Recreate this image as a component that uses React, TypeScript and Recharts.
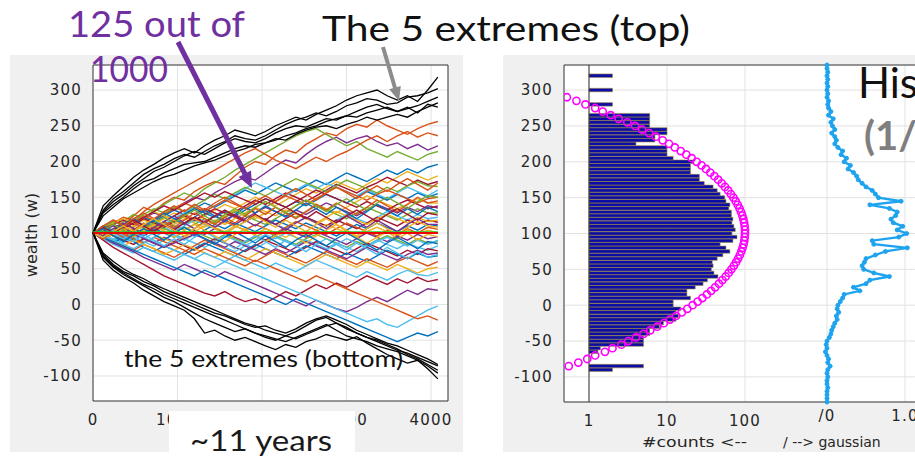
import React from "react";
import {
  ComposedChart,
  LineChart,
  Line,
  Bar,
  XAxis,
  YAxis,
  CartesianGrid,
  ReferenceLine,
} from "recharts";

// ---------- left panel: 125 wealth paths (a subset is drawn) ----------
const steps = [0, 120, 240, 360, 480, 600, 720, 840, 960, 1080, 1200, 1320, 1440, 1560, 1680, 1800, 1920, 2040, 2160, 2280, 2400, 2520, 2640, 2760, 2880, 3000, 3120, 3240, 3360, 3480, 3600, 3720, 3840, 3960, 4080];

const xTicks = [0, 1000, 2000, 3000, 4000];
const wealthTicks = [-100, -50, 0, 50, 100, 150, 200, 250, 300];
const startWealth = 100;

const w01 = [100, 108, 118, 112, 124, 136, 130, 142, 150, 146, 158, 166, 172, 168, 180, 192, 200, 196, 208, 216, 212, 224, 232, 240, 236, 246, 252, 248, 258, 250, 244, 238, 246, 252, 256];
const w02 = [100, 94, 104, 112, 108, 120, 128, 124, 134, 142, 150, 146, 156, 164, 172, 178, 174, 184, 194, 202, 198, 210, 220, 228, 234, 226, 232, 236, 228, 222, 226, 218, 224, 216, 222];
const w03 = [100, 110, 104, 116, 126, 120, 132, 140, 148, 156, 150, 162, 170, 178, 188, 196, 204, 212, 220, 228, 236, 242, 246, 238, 230, 222, 228, 218, 212, 206, 214, 208, 202, 210, 214];
const w04 = [100, 106, 114, 122, 118, 130, 140, 148, 156, 164, 172, 180, 188, 196, 204, 212, 218, 210, 202, 196, 190, 198, 206, 200, 208, 214, 222, 230, 236, 228, 236, 242, 234, 240, 236];
const w05 = [100, 92, 98, 106, 114, 108, 116, 124, 132, 126, 134, 142, 136, 144, 152, 160, 154, 162, 170, 164, 158, 166, 174, 168, 176, 184, 178, 172, 180, 188, 182, 190, 184, 192, 196];
const w06 = [100, 104, 96, 102, 110, 118, 112, 120, 128, 122, 116, 124, 132, 140, 134, 142, 150, 144, 138, 146, 154, 162, 156, 164, 172, 166, 160, 168, 176, 170, 178, 186, 180, 174, 180];
const w07 = [100, 96, 104, 112, 106, 100, 108, 116, 124, 132, 126, 134, 128, 122, 130, 138, 146, 140, 148, 156, 150, 144, 152, 160, 168, 162, 156, 164, 170, 178, 172, 166, 174, 168, 172];
const w08 = [100, 108, 100, 94, 102, 110, 118, 112, 120, 128, 136, 130, 138, 146, 154, 162, 170, 164, 158, 152, 160, 168, 162, 170, 164, 158, 152, 160, 154, 148, 156, 164, 158, 152, 160];
const w09 = [100, 104, 112, 106, 114, 122, 116, 110, 118, 126, 134, 128, 122, 130, 124, 132, 140, 148, 142, 136, 144, 138, 146, 154, 148, 142, 150, 158, 152, 146, 154, 148, 156, 150, 155];
const w10 = [100, 94, 100, 108, 116, 124, 118, 126, 134, 142, 136, 130, 138, 146, 140, 134, 128, 136, 144, 152, 146, 140, 148, 156, 164, 158, 152, 146, 154, 160, 154, 148, 142, 148, 150];
const w11 = [100, 98, 106, 100, 94, 102, 110, 104, 112, 120, 114, 108, 116, 124, 132, 126, 120, 128, 136, 130, 138, 146, 140, 134, 128, 136, 144, 152, 146, 140, 134, 140, 148, 142, 142];
const w12 = [100, 106, 100, 108, 102, 96, 104, 112, 106, 114, 122, 116, 124, 118, 112, 120, 128, 136, 130, 124, 132, 126, 134, 142, 136, 130, 124, 132, 140, 134, 128, 136, 130, 138, 135];
const w13 = [100, 96, 90, 98, 106, 100, 108, 116, 110, 104, 112, 120, 114, 122, 130, 124, 118, 112, 120, 128, 122, 130, 138, 132, 126, 120, 128, 136, 130, 124, 118, 126, 134, 128, 128];
const w14 = [100, 104, 110, 104, 98, 92, 100, 108, 102, 110, 118, 112, 106, 100, 108, 116, 124, 118, 112, 106, 114, 122, 116, 110, 118, 126, 120, 114, 122, 130, 124, 118, 126, 120, 122];
const w15 = [100, 106, 112, 118, 112, 120, 114, 108, 116, 124, 118, 126, 134, 128, 122, 116, 124, 118, 112, 120, 128, 122, 116, 110, 118, 112, 106, 114, 122, 116, 110, 118, 112, 118, 115];
const w16 = [100, 94, 88, 96, 90, 98, 106, 100, 94, 102, 96, 104, 112, 106, 114, 108, 102, 110, 118, 112, 106, 114, 108, 102, 96, 104, 112, 106, 114, 108, 102, 110, 104, 112, 110];
const w17 = [100, 104, 98, 106, 114, 108, 102, 110, 118, 126, 120, 114, 108, 116, 110, 104, 112, 106, 100, 108, 116, 110, 104, 98, 106, 114, 108, 102, 96, 104, 98, 106, 100, 108, 105];
const w18 = [100, 108, 114, 120, 114, 122, 130, 124, 118, 112, 120, 114, 108, 102, 110, 104, 98, 106, 100, 94, 102, 96, 104, 112, 106, 100, 94, 102, 108, 102, 96, 104, 98, 104, 100];
const w19 = [100, 94, 100, 106, 100, 92, 86, 94, 88, 96, 104, 98, 106, 100, 94, 88, 96, 90, 98, 106, 100, 94, 102, 96, 90, 84, 92, 100, 94, 88, 96, 90, 98, 92, 95];
const w20 = [100, 102, 96, 90, 98, 106, 112, 106, 100, 108, 102, 96, 90, 98, 92, 86, 94, 102, 96, 90, 84, 92, 98, 92, 86, 80, 88, 82, 90, 96, 90, 84, 92, 86, 88];
const w21 = [100, 96, 92, 86, 94, 88, 82, 90, 98, 92, 86, 80, 88, 96, 90, 84, 78, 86, 94, 88, 82, 90, 84, 78, 86, 80, 74, 82, 90, 84, 78, 86, 80, 76, 82];
const w22 = [100, 104, 96, 90, 84, 92, 86, 80, 88, 82, 76, 84, 92, 86, 80, 74, 82, 90, 84, 78, 72, 80, 88, 82, 76, 70, 78, 86, 80, 74, 68, 76, 70, 78, 75];
const w23 = [100, 92, 86, 94, 88, 80, 74, 82, 76, 70, 78, 86, 80, 74, 68, 76, 84, 78, 72, 66, 74, 82, 76, 70, 64, 72, 66, 60, 68, 76, 70, 64, 72, 66, 68];
const w24 = [100, 96, 88, 82, 76, 84, 78, 72, 66, 74, 82, 90, 84, 78, 72, 66, 60, 68, 76, 70, 64, 58, 66, 74, 68, 62, 56, 64, 58, 52, 60, 66, 60, 54, 60];
const w25 = [100, 94, 88, 82, 90, 84, 78, 70, 76, 84, 78, 72, 66, 74, 68, 62, 70, 78, 72, 66, 60, 54, 62, 70, 64, 58, 52, 60, 54, 48, 56, 50, 44, 50, 52];
const w26 = [100, 92, 84, 78, 72, 80, 74, 68, 62, 70, 64, 58, 52, 60, 68, 62, 56, 50, 58, 52, 46, 54, 62, 56, 50, 44, 38, 46, 40, 34, 42, 48, 42, 40, 45];
const w27 = [100, 90, 80, 72, 64, 56, 48, 40, 34, 28, 22, 16, 12, 18, 10, 4, 8, 2, 10, 18, 12, 20, 28, 22, 30, 24, 32, 40, 34, 28, 36, 30, 38, 32, 35];
const w28 = [100, 94, 86, 80, 74, 66, 60, 54, 48, 56, 50, 44, 38, 46, 40, 34, 28, 22, 16, 10, 4, -2, 6, 0, -6, -10, -4, 4, 10, 4, 12, 20, 14, 22, 20];
const w29 = [100, 106, 98, 92, 100, 94, 88, 82, 76, 70, 64, 72, 66, 60, 54, 48, 42, 36, 30, 24, 18, 12, 6, 0, -6, -12, -18, -24, -20, -28, -32, -24, -16, -8, -2];
const w30 = [100, 96, 104, 98, 92, 86, 94, 88, 82, 76, 70, 78, 72, 66, 60, 54, 62, 56, 50, 44, 38, 32, 40, 34, 28, 22, 16, 10, 4, -2, -8, -14, -20, -16, -22];
const w31 = [100, 94, 88, 82, 76, 70, 64, 58, 52, 46, 40, 48, 42, 36, 30, 24, 18, 12, 6, 0, 8, 2, -4, -10, -16, -22, -28, -34, -40, -46, -52, -46, -40, -44, -38];
const w32 = [100, 108, 116, 110, 118, 126, 134, 128, 136, 130, 138, 146, 154, 148, 156, 164, 158, 152, 160, 168, 176, 170, 164, 158, 166, 174, 168, 162, 156, 164, 158, 166, 172, 166, 165];
const w33 = [100, 106, 112, 106, 114, 122, 130, 138, 132, 140, 148, 156, 150, 158, 152, 146, 140, 148, 142, 136, 144, 152, 160, 154, 148, 142, 136, 144, 138, 132, 140, 146, 140, 134, 138];
const w34 = [100, 92, 98, 104, 110, 104, 98, 92, 86, 94, 102, 110, 118, 112, 120, 128, 136, 130, 124, 132, 126, 120, 114, 122, 130, 124, 118, 112, 120, 126, 120, 114, 122, 116, 118];
const w35 = [100, 96, 90, 84, 78, 86, 94, 102, 96, 90, 98, 92, 86, 80, 74, 82, 90, 98, 92, 100, 94, 88, 82, 76, 84, 92, 86, 80, 88, 94, 88, 82, 90, 84, 90];
const w36 = [100, 104, 110, 104, 98, 92, 86, 80, 86, 92, 98, 92, 86, 80, 88, 82, 76, 70, 78, 72, 80, 88, 82, 76, 70, 64, 72, 80, 74, 68, 62, 70, 76, 70, 72];
const w37 = [100, 110, 102, 112, 120, 110, 118, 128, 120, 112, 122, 132, 124, 116, 126, 136, 128, 138, 130, 122, 132, 142, 134, 126, 136, 128, 120, 130, 140, 132, 124, 134, 126, 136, 130];
const w38 = [100, 92, 102, 94, 104, 114, 106, 116, 108, 118, 128, 120, 112, 122, 114, 124, 134, 126, 136, 128, 120, 130, 140, 132, 142, 134, 126, 136, 146, 138, 130, 140, 150, 142, 145];
const w39 = [100, 108, 98, 106, 96, 104, 112, 102, 94, 104, 112, 104, 96, 88, 98, 106, 96, 88, 96, 104, 94, 86, 96, 104, 112, 102, 94, 86, 94, 102, 92, 100, 90, 98, 95];
const w40 = [100, 96, 106, 114, 106, 98, 108, 116, 124, 114, 106, 116, 108, 118, 126, 118, 110, 120, 112, 104, 114, 122, 114, 106, 116, 124, 116, 108, 118, 110, 102, 112, 120, 112, 112];
const w41 = [100, 104, 112, 104, 96, 106, 114, 122, 114, 124, 132, 124, 116, 126, 134, 126, 136, 144, 136, 128, 138, 146, 138, 130, 140, 148, 140, 132, 142, 150, 142, 134, 144, 152, 150];
const w42 = [100, 94, 104, 96, 88, 98, 90, 82, 92, 84, 94, 102, 94, 86, 78, 88, 96, 88, 80, 90, 82, 74, 84, 92, 84, 76, 86, 78, 70, 80, 72, 64, 74, 66, 70];
const w43 = [100, 108, 100, 110, 118, 110, 102, 112, 104, 114, 122, 114, 124, 132, 124, 116, 126, 118, 128, 136, 128, 120, 130, 122, 114, 124, 132, 124, 116, 126, 134, 126, 118, 128, 125];
const w44 = [100, 106, 96, 88, 98, 106, 98, 90, 100, 108, 100, 92, 84, 94, 102, 94, 86, 96, 88, 80, 90, 98, 90, 82, 92, 100, 92, 84, 76, 86, 94, 86, 78, 88, 85];
const w45 = [100, 110, 118, 110, 120, 128, 120, 130, 138, 130, 140, 132, 142, 150, 142, 134, 144, 152, 144, 154, 162, 154, 146, 156, 164, 156, 148, 158, 166, 158, 168, 176, 168, 160, 170];
const w46 = [100, 94, 102, 110, 102, 112, 120, 112, 104, 96, 106, 114, 106, 98, 108, 116, 124, 116, 108, 118, 110, 102, 112, 120, 112, 104, 96, 106, 114, 106, 98, 108, 116, 110, 108];

// the 5 extremes (top) and the 5 extremes (bottom)
const top1 = [100, 138, 152, 165, 178, 188, 196, 205, 212, 218, 212, 222, 230, 236, 244, 240, 236, 242, 250, 256, 262, 258, 266, 272, 278, 286, 292, 296, 300, 292, 286, 292, 284, 300, 318];
const top2 = [100, 132, 148, 158, 170, 182, 190, 196, 204, 210, 206, 214, 222, 228, 236, 232, 230, 236, 244, 252, 258, 262, 268, 264, 270, 278, 282, 288, 286, 280, 282, 290, 292, 296, 302];
const top3 = [100, 128, 140, 150, 162, 172, 176, 184, 190, 196, 198, 200, 206, 212, 218, 222, 220, 226, 232, 230, 238, 244, 248, 250, 246, 252, 256, 262, 258, 262, 266, 262, 270, 276, 282];
const top4 = [100, 124, 136, 148, 156, 164, 172, 178, 182, 188, 194, 198, 202, 208, 214, 218, 224, 226, 230, 236, 240, 246, 250, 256, 260, 264, 262, 268, 272, 276, 270, 274, 278, 284, 290];
const top5 = [100, 130, 144, 154, 166, 176, 186, 192, 200, 208, 214, 210, 218, 226, 232, 228, 226, 232, 240, 246, 250, 248, 254, 260, 258, 264, 270, 276, 280, 274, 270, 276, 268, 280, 276];
const bot1 = [100, 62, 48, 38, 30, 20, 12, 4, -2, -8, -20, -40, -36, -44, -50, -46, -52, -58, -63, -56, -60, -52, -48, -42, -46, -50, -45, -54, -62, -70, -76, -82, -78, -90, -104];
const bot2 = [100, 66, 52, 42, 34, 26, 18, 10, 4, -4, -12, -20, -26, -32, -38, -34, -40, -46, -50, -44, -38, -30, -22, -18, -26, -34, -40, -46, -50, -56, -62, -70, -76, -84, -92];
const bot3 = [100, 70, 56, 46, 40, 32, 26, 18, 12, 6, 0, -6, -12, -16, -22, -28, -32, -30, -36, -40, -34, -26, -20, -16, -22, -28, -36, -42, -48, -54, -58, -64, -70, -76, -84];
const bot4 = [100, 72, 60, 50, 42, 36, 28, 22, 16, 10, 4, -2, -8, -14, -20, -26, -30, -36, -40, -44, -48, -42, -36, -30, -26, -32, -40, -46, -52, -58, -64, -68, -74, -80, -86];
const bot5 = [100, 68, 54, 44, 36, 28, 22, 14, 8, 2, -4, -10, -16, -22, -28, -34, -40, -44, -48, -52, -46, -40, -34, -28, -36, -44, -48, -52, -58, -62, -66, -72, -78, -86, -96];

const colouredWalks = [w01, w02, w03, w04, w05, w06, w07, w08, w09, w10, w11, w12, w13, w14, w15, w16, w17, w18, w19, w20, w21, w22, w23, w24, w25, w26, w27, w28, w29, w30, w31, w32, w33, w34, w35, w36, w37, w38, w39, w40, w41, w42, w43, w44, w45, w46];
const extremeWalks = [top1, top2, top3, top4, top5, bot1, bot2, bot3, bot4, bot5];
const walkColours = [
  "#D95319", "#7E2F8E", "#77AC30", "#D95319", "#0072BD", "#EDB120", "#A2142F", "#4DBEEE", "#0072BD", "#D95319",
  "#EDB120", "#7E2F8E", "#77AC30", "#4DBEEE", "#A2142F", "#0072BD", "#D95319", "#EDB120", "#7E2F8E", "#77AC30",
  "#4DBEEE", "#A2142F", "#0072BD", "#D95319", "#EDB120", "#4DBEEE", "#A2142F", "#7E2F8E", "#4DBEEE", "#D95319",
  "#0072BD", "#77AC30", "#A2142F", "#EDB120", "#4DBEEE", "#7E2F8E", "#0072BD", "#D95319", "#EDB120", "#7E2F8E",
  "#77AC30", "#4DBEEE", "#A2142F", "#0072BD", "#D95319", "#EDB120",
];

const walkRows = steps.map((t, i) => {
  const row: any = { t };
  colouredWalks.forEach((w, k) => (row["c" + k] = w[i]));
  extremeWalks.forEach((w, k) => (row["e" + k] = w[i]));
  return row;
});

// ---------- right panel: histogram of final wealth ----------
const histBins = Array.from({ length: 84 }, (_, i) => -95 + 5 * i);
const histCounts = [
  0, 2, 5, 0, 0, 1, 1.3, 1.4, 5, 5,
  5, 6, 6, 8, 9, 13, 14, 13, 15, 12,
  12, 20, 18, 18, 23, 29, 33, 45, 40, 37,
  39, 38, 44, 52, 64, 57, 48, 70, 79, 68,
  75, 72, 68, 70, 67, 67, 62, 64, 57, 55,
  48, 44, 39, 30, 26, 26, 20, 20, 20, 22,
  12, 10, 10, 10, 4, 7, 7, 10, 10, 6,
  6, 6, 6, 1, 1, 2, 0, 1, 0, 2,
  0, 0, 0, 2,
];
const gaussW = Array.from({ length: 77 }, (_, i) => -90 + 5 * i);
const gaussFit = [
  0.42, 0.55, 0.73, 0.95, 1.2, 1.6, 2.0, 2.6, 3.2, 4.0,
  5.0, 6.1, 7.5, 9.1, 10.9, 13.1, 15.5, 18.2, 21.3, 24.7,
  28.4, 32.5, 36.8, 41.4, 46.3, 51.3, 56.5, 61.7, 66.9, 72.0,
  76.9, 81.6, 85.9, 89.7, 93.1, 95.8, 97.9, 99.3, 99.9, 99.9,
  99.1, 97.5, 95.3, 92.4, 89.0, 85.1, 80.7, 76.0, 71.0, 65.9,
  60.7, 55.4, 50.3, 45.3, 40.5, 35.9, 31.6, 27.7, 24.0, 20.7,
  17.7, 15.0, 12.6, 10.6, 8.8, 7.2, 5.9, 4.8, 3.9, 3.1,
  2.4, 1.9, 1.5, 1.2, 0.9, 0.69, 0.52,
];
const profileW = Array.from({ length: 95 }, (_, i) => -135 + 5 * i);
const gaussianProfile = [
  0, 0, 0, 0, 0.01, 0, 0, 0.01, 0, 0.01,
  0.04, 0.01, 0.02, 0, -0.02, 0, -0.01, 0, 0.03, 0.05,
  0.06, 0.08, 0.1, 0.13, 0.12, 0.15, 0.13, 0.14, 0.17, 0.2,
  0.22, 0.42, 0.34, 0.5, 0.55, 0.8, 0.6, 0.47, 0.45, 0.48,
  0.5, 0.62, 0.75, 1.03, 0.6, 0.58, 0.92, 1.02, 0.9, 0.97,
  0.85, 0.82, 0.88, 0.9, 0.8, 0.55, 0.95, 0.66, 0.62, 0.58,
  0.5, 0.45, 0.4, 0.38, 0.34, 0.27, 0.3, 0.22, 0.25, 0.18,
  0.2, 0.14, 0.1, 0.12, 0.1, 0.06, 0.1, 0.07, 0.05, 0.08,
  0.02, 0.05, 0.02, 0.01, 0.02, 0, 0.01, 0, 0.01, 0,
  0.01, 0, 0.01, 0, 0,
];
const countTicks = [1, 10, 100];

const histRows = profileW.map((w, i) => {
  const hi = histBins.indexOf(w);
  const gi = gaussW.indexOf(w);
  const c = hi >= 0 ? histCounts[hi] : 0;
  return {
    w,
    count: c > 1 ? [1, c] : null,
    fit: gi >= 0 ? gaussFit[gi] : null,
    prof: gaussianProfile[i],
  };
});

const tickStyle = { fontSize: 15, fill: "#262626", fontFamily: "DejaVu Sans", letterSpacing: 1.2 };
const boxColour = "#3a3a3a";
const slideFont = "Lato, 'Open Sans', sans-serif";

export default function App() {
  return (
    <div style={{ position: "absolute", left: 0, top: 0, width: 915, height: 459, overflow: "hidden", background: "#fff" }}>
      <div style={{ position: "absolute", left: 10, top: 55, width: 453, height: 397, background: "#f0f0f0" }} />
      <div style={{ position: "absolute", left: 503, top: 55, width: 412, height: 397, background: "#f0f0f0" }} />

      <div style={{ position: "absolute", left: 0, top: 0 }}>
        <LineChart width={460} height={459} data={walkRows} margin={{ top: 65, right: 12, bottom: 28, left: 43 }}>
          <CartesianGrid stroke="#e2e2e2" fill="#fff" />
          <XAxis type="number" dataKey="t" domain={[0, 4200]} ticks={xTicks} tick={tickStyle} tickLine={false} tickMargin={7} height={30} stroke={boxColour} />
          <YAxis type="number" domain={[-135, 335]} ticks={wealthTicks} tick={tickStyle} tickLine={false} tickMargin={5} width={50} stroke={boxColour} />
          {colouredWalks.map((_, k) => (
            <Line key={"c" + k} dataKey={"c" + k} stroke={walkColours[k]} strokeWidth={1.4} dot={false} isAnimationActive={false} />
          ))}
          {extremeWalks.map((_, k) => (
            <Line key={"e" + k} dataKey={"e" + k} stroke="#000" strokeWidth={1.3} dot={false} isAnimationActive={false} />
          ))}
          <ReferenceLine segment={[{ x: steps[0], y: startWealth + 1 }, { x: steps[steps.length - 1], y: startWealth + 1 }]} stroke="#22cc22" strokeWidth={2} />
          <ReferenceLine segment={[{ x: steps[0], y: startWealth }, { x: steps[steps.length - 1], y: startWealth }]} stroke="#ee0000" strokeWidth={2.2} />
          <ReferenceLine y={335} stroke={boxColour} />
          <ReferenceLine x={4200} stroke={boxColour} />
        </LineChart>
      </div>

      <div style={{ position: "absolute", left: 500, top: 0 }}>
        <ComposedChart width={500} height={459} layout="vertical" data={histRows} margin={{ top: 65, right: 21, bottom: 28, left: 14 }}>
          <CartesianGrid xAxisId="log" stroke="#e2e2e2" fill="#fff" />
          <XAxis xAxisId="log" type="number" scale="log" domain={[0.478, 100000]} allowDataOverflow ticks={countTicks} tick={tickStyle} tickLine={false} tickMargin={7} height={29} stroke={boxColour} />
          <XAxis xAxisId="lin" orientation="top" type="number" domain={[-3.3718, 1.9487]} allowDataOverflow hide />
          <YAxis type="number" dataKey="w" domain={[-135, 335]} ticks={wealthTicks} reversed tick={tickStyle} tickLine={false} tickMargin={5} width={50} stroke={boxColour} />
          <ReferenceLine xAxisId="lin" x={0} stroke="#e2e2e2" label={{ value: "/0", position: "bottom", offset: 8, ...tickStyle }} />
          <ReferenceLine xAxisId="lin" x={1} stroke="#e2e2e2" label={{ value: "1.0", position: "bottom", offset: 8, ...tickStyle }} />
          <Bar xAxisId="log" dataKey="count" barSize={3.5} fill="#0c0ca6" stroke="#9c8a3a" strokeWidth={0.6} isAnimationActive={false} />
          <ReferenceLine xAxisId="log" x={1} stroke="#333" />
          <Line xAxisId="log" dataKey="fit" stroke="none" connectNulls={false} isAnimationActive={false}
            dot={{ r: 3.6, stroke: "#ff00ff", strokeWidth: 1.6, fill: "none" }} />
          <Line xAxisId="lin" dataKey="prof" stroke="#1ea3ef" strokeWidth={2.4} isAnimationActive={false}
            dot={{ r: 2, fill: "#1ea3ef", stroke: "#1ea3ef", strokeWidth: 1 }} />
          <ReferenceLine xAxisId="log" y={335} stroke={boxColour} />
        </ComposedChart>
      </div>

      <svg width={915} height={459} style={{ position: "absolute", left: 0, top: 0, pointerEvents: "none" }}>
        <text x={32} y={235} transform="rotate(-90 32 235)" textAnchor="middle" dominantBaseline="middle" fontFamily="DejaVu Sans" fontSize={16} fill="#262626">wealth (w)</text>
        <text x={124} y={367} fontFamily={slideFont} fontSize={23} fill="#111" textLength={279} lengthAdjust="spacingAndGlyphs">the 5 extremes (bottom)</text>
        <rect x={169} y={411} width={186} height={48} fill="#fff" />
        <text x={190} y={451} fontFamily={slideFont} fontSize={28} fill="#1a1a1a" textLength={142} lengthAdjust="spacingAndGlyphs">~11 years</text>
        <text x={68} y={37} fontFamily={slideFont} fontSize={37} fill="#7030a0" textLength={177} lengthAdjust="spacingAndGlyphs">125 out of</text>
        <text x={90} y={82} fontFamily={slideFont} fontSize={37} fill="#7030a0" textLength={78} lengthAdjust="spacingAndGlyphs">1000</text>
        <text x={322} y={41} fontFamily={slideFont} fontSize={34} fill="#111" textLength={368} lengthAdjust="spacingAndGlyphs">The 5 extremes (top)</text>
        <line x1={178} y1={42} x2={245} y2={174} stroke="#7030a0" strokeWidth={5} />
        <polygon points="252,188 238.6,176.9 251,170.5" fill="#7030a0" />
        <line x1={383} y1={47} x2={395} y2={88} stroke="#8c8c8c" strokeWidth={4} />
        <polygon points="399,101 389.2,89.3 400.8,85.9" fill="#8c8c8c" />
        <text x={858} y={98} fontFamily={slideFont} fontSize={42} fill="#111">Hist</text>
        <text x={864} y={150} fontFamily={slideFont} fontSize={40} fontWeight={700} fill="#7f7f7f">(1/</text>
        <text x={642} y={447} fontFamily="DejaVu Sans" fontSize={14} fill="#262626" textLength={105} lengthAdjust="spacingAndGlyphs">#counts &lt;--</text>
        <text x={783} y={447} fontFamily="DejaVu Sans" fontSize={14} fill="#262626">/ --&gt; gaussian</text>
      </svg>
    </div>
  );
}
